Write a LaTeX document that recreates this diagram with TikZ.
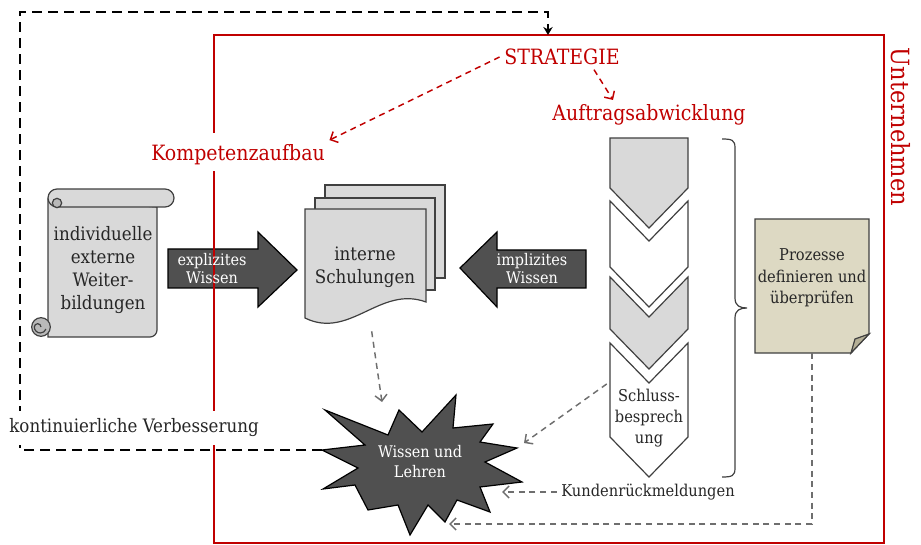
\documentclass[tikz,border=0pt]{standalone}
\usepackage{fontspec}
\setmainfont{DejaVu Serif Condensed}
\usetikzlibrary{arrows.meta}
\definecolor{firmred}{RGB}{192,0,0}
\definecolor{boxgray}{RGB}{217,217,217}
\definecolor{darkfill}{RGB}{80,80,80}
\definecolor{linegray}{RGB}{64,64,64}
\definecolor{notefill}{RGB}{221,217,195}
\definecolor{notefold}{RGB}{180,175,150}
\definecolor{textgray}{RGB}{38,38,38}
\definecolor{dashgray}{RGB}{110,110,110}
\begin{document}
\begin{tikzpicture}[x=0.75pt, y=-0.75pt]
	\tikzstyle{main}=[font=\fontsize{13.9}{17.3}\selectfont, text=textgray, align=center]
	\tikzstyle{small}=[font=\fontsize{12.2}{16}\selectfont, text=textgray, align=center]
	\tikzstyle{onarrow}=[font=\fontsize{12}{13.5}\selectfont, text=white, align=center]
	\tikzstyle{title}=[font=\fontsize{15.8}{17}\selectfont, text=firmred]
	\tikzstyle{sheet}=[draw=linegray, line width=0.9pt, fill=boxgray]
	\tikzstyle{dark}=[draw=black, line width=0.9pt, fill=darkfill]
	\tikzstyle{reddash}=[firmred, line width=1.1pt, dash pattern=on 4.5pt off 3.5pt, -{Straight Barb[length=4.5pt,width=9pt]}]
	\tikzstyle{graydash}=[dashgray, line width=1.1pt, dash pattern=on 4.5pt off 3.5pt, -{Straight Barb[length=4.5pt,width=9pt]}]
	\tikzstyle{backloop}=[black, line width=1.9pt, dash pattern=on 7.5pt off 4.5pt, -{Stealth[length=6pt,width=7pt]}]
	\useasboundingbox (0,0) rectangle (921,545);
	% Scroll
	\draw[sheet] (48,199) -- (48,337) -- (150,337) arc (-90:0:5.25pt) -- (157,207) -- cycle;
	\draw[sheet] (57,189) -- (165,189) arc (90:-90:6.75pt) -- (57,207) arc (-90:-270:6.75pt) -- cycle;
	\draw[sheet, fill=gray!55] (57,203) circle (3.5pt);
	\draw[sheet, fill=gray!55] (41,327) circle (7pt);
	\draw[linegray, line width=0.9pt] (41,327) arc (0:180:2.5pt) arc (180:340:4.5pt);
	% Schulungen
	\draw[sheet] (325,185) rectangle (445,278);
	\draw[sheet] (315,198) rectangle (435,290);
	\draw[sheet] (305,209) -- (426,209) -- (426,302) .. controls (380,285) and (350,340) .. (305,318) -- cycle;
	% Block arrows
	\draw[dark] (168,249) -- (258,249) -- (258,232) -- (297,270) -- (258,307) -- (258,288) -- (168,288) -- cycle;
	\draw[dark] (586,250) -- (497,250) -- (497,232) -- (460,268) -- (497,307) -- (497,288) -- (586,288) -- cycle;
	% Auftragsabwicklung
	\draw[sheet] (610,138) -- (688,138) -- (688,188) -- (649,228) -- (610,188) -- cycle;
	\foreach \ya/\yb/\col in {201/267/white, 277/329/boxgray, 343/437/white}
		\draw[sheet, fill=\col] (610,\ya) -- (649,\ya+40) -- (688,\ya) -- (688,\yb) -- (649,\yb+40) -- (610,\yb) -- cycle;
	\draw[linegray, line width=0.9pt] (722,139) .. controls (732,139) and (735,140) .. (735,148) -- (735,298)
		.. controls (735,306) and (740,308) .. (747,308) .. controls (740,308) and (735,310) .. (735,318)
		-- (735,468) .. controls (735,476) and (732,477) .. (722,477);
	% Prozesse
	\draw[sheet, fill=notefill] (755,219) -- (869,219) -- (869,334) -- (851,353) -- (755,353) -- cycle;
	\draw[sheet, fill=notefold] (851,353) -- (855,339) -- (869,334) -- cycle;
	% Wissen und Lehren
	\draw[dark] (322,450) -- (365,445) -- (325,410) -- (388,435) -- (399,410) -- (422,432) -- (456,395)
		-- (453,428) -- (493,424) -- (480,442) -- (517,448) -- (485,462) -- (522,482) -- (480,487)
		-- (490,512) -- (457,500) -- (445,522) -- (428,505) -- (410,535) -- (398,505) -- (368,510)
		-- (355,485) -- (323,489) -- (358,468) -- cycle;
	\coordinate (star_w) at (322,450);
	\coordinate (star_n) at (382,402);
	\coordinate (star_e) at (524,443);
	\coordinate (star_se) at (502,492);
	\coordinate (star_s) at (449,524);
	\coordinate (frame_top) at (548,35);
	% Unternehmen
	\draw[firmred, line width=1.9pt] (214,35) rectangle (884,543);
	\fill[white] (28,133) rectangle (447,171);
	%---------------------%
	\node at (103,270) [main] (weiterbildung) {individuelle\\externe\\Weiter-\\bildungen};
	\node at (365,267) [main, minimum height=96pt] (schulung) {interne\\Schulungen};
	\node at (212,269) [onarrow] (explizit) {explizites\\Wissen};
	\node at (532,269) [onarrow] (implizit) {implizites\\Wissen};
	\node at (649,418) [small, minimum width=63pt] (schluss) {Schluss-\\besprech\\ung};
	\node at (812,278) [small, minimum width=85.5pt, minimum height=112.5pt] (prozesse) {Prozesse\\definieren und\\überprüfen};
	\node at (420,462) [onarrow, font=\fontsize{12}{15}\selectfont] (wissen) {Wissen und\\Lehren};
	\node at (648,492) [small] (kunden) {Kundenrückmeldungen};
	\node at (562,57) [title] (strategie) {STRATEGIE};
	\node at (649,115) [title] (auftrag) {Auftragsabwicklung};
	\node at (238,155) [title] (kompetenz) {Kompetenzaufbau};
	\node at (901,127) [title, font=\fontsize{18.8}{20}\selectfont, rotate=-90] (unternehmen) {Unternehmen};
	% Loop
	\draw[backloop] (star_w) -| (20,12) -| (frame_top);
	\node at (134,428) [main, fill=white, minimum width=201pt, minimum height=26pt] (verbesserung) {kontinuierliche Verbesserung};
	%---------------------%
	\draw[reddash] (strategie.west) -- (kompetenz.north east);
	\draw[reddash] ([xshift=24pt]strategie.south) -- ([xshift=-27pt]auftrag.north);
	\draw[graydash] ([xshift=5pt]schulung.south) -- (star_n);
	\draw[graydash] (schluss.north west) -- (star_e);
	\draw[graydash] (kunden.west) -- (star_se);
	\draw[graydash] (prozesse.south) |- (star_s);
\end{tikzpicture}
\end{document}
